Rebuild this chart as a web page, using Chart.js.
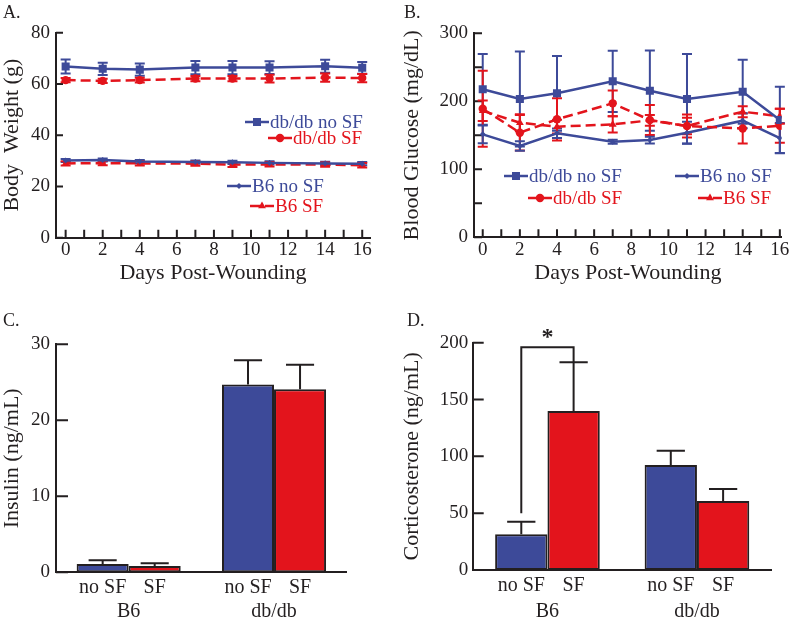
<!DOCTYPE html>
<html>
<head>
<meta charset="utf-8">
<script src="https://cdn.jsdelivr.net/npm/chart.js@4.4.1/dist/chart.umd.min.js"></script>
<style>
  body { margin: 0; background: #fff; }
  #wrap { position: relative; width: 800px; height: 626px; background: #fff; }
  .panel { position: absolute; }
  .tag { position: absolute; font: 18px 'Liberation Serif', serif; line-height: 18px; color: #231f20; }
</style>
</head>
<body>
<div id="wrap">
  <div class="panel" style="left:0;top:0;width:400px;height:300px"><canvas id="chartA"></canvas></div>
  <div class="panel" style="left:400px;top:0;width:400px;height:300px"><canvas id="chartB"></canvas></div>
  <div class="panel" style="left:0;top:300px;width:400px;height:326px"><canvas id="chartC"></canvas></div>
  <div class="panel" style="left:400px;top:300px;width:400px;height:326px"><canvas id="chartD"></canvas></div>
  <div class="tag" style="left:3px;top:3px">A.</div>
  <div class="tag" style="left:404px;top:3px">B.</div>
  <div class="tag" style="left:3px;top:311px">C.</div>
  <div class="tag" style="left:407px;top:311px">D.</div>
</div>
<script>
// dias das medidas
const days = [0, 2, 4, 7, 9, 11, 14, 16];

// A - peso corporal (g)
const bwDbNo = [66.8, 65.9, 65.6, 66.4, 66.4, 66.4, 66.9, 66.3];
const bwDbNoErr = [2.7, 2.4, 2.4, 2.6, 2.6, 2.5, 2.5, 2.3];
const bwDbSF = [61.5, 61.2, 61.5, 62.1, 62.1, 62.1, 62.5, 62.3];
const bwDbSFErr = [0.8, 0.8, 0.9, 1.0, 1.0, 1.5, 1.6, 1.6];
const bwB6No = [30.1, 30.3, 29.7, 29.5, 29.4, 29.2, 29.0, 28.9];
const bwB6NoErr = [0.6, 0.6, 0.6, 0.6, 0.6, 0.6, 0.6, 0.6];
const bwB6SF = [29.0, 29.1, 29.0, 28.9, 28.5, 28.6, 28.5, 28.3];
const bwB6SFErr = [0.8, 0.8, 0.8, 0.8, 0.9, 0.8, 0.8, 0.9];

// B - glicose (mg/dL)
const bgDbNo = [217.6, 203.4, 211.8, 229.4, 215.6, 203.4, 214, 172.5];
const bgDbNoErr = [52, 70, 55, 45, 59, 66, 47, 49];
const bgDbSF = [189, 153.8, 173.5, 197, 172.5, 163.7, 160, 164];
const bgDbSFErr = [56, 26, 31, 19, 22, 17, 22, 25];
const bgB6No = [151.4, 134.3, 153, 140.6, 143, 153.8, 171.5, 146];
const bgB6NoErr = [13, 7, 7, 3, 5, 16, 11, 22];
const bgB6SF = [186, 168.5, 162.7, 166, 172, 163.7, 184.7, 178];
const bgB6SFErr = [15, 12.5, 10, 12, 8, 12, 8, 11];

// C e D - barras
const groups = ['B6', 'db/db'];
const insNo = [1.1, 24.7];
const insNoErr = [0.5, 3.2];
const insSF = [0.83, 24.1];
const insSFErr = [0.35, 3.2];
const cortNo = [31.4, 92.4];
const cortNoErr = [11.1, 12.6];
const cortSF = [139.9, 60.7];
const cortSFErr = [42.8, 10.5];
const sigBracket = [50, 196]; // inicio e topo do colchete (ng/mL)

const BLUE = '#3d4a99';
const RED = '#e3141c';
const INK = '#231f20';
const FAM = "'Liberation Serif', serif";

function pts(vals) {
    return days.map((d, i) => ({ x: d, y: vals[i] }));
}

function serie(label, vals, errs, color, style, radius, dashed) {
    return {
        label: label,
        data: pts(vals),
        errors: errs,
        borderColor: color,
        backgroundColor: color,
        borderWidth: 2.5,
        borderDash: dashed ? [10, 5] : [],
        pointStyle: style,
        pointRadius: radius,
        pointBorderWidth: 0,
        pointBackgroundColor: color,
        tension: 0
    };
}

// tracinhos dos eixos virados para dentro
const innerTicks = {
    id: 'innerTicks',
    beforeDatasetsDraw(chart, args, opts) {
        const ctx = chart.ctx;
        const area = chart.chartArea;
        ctx.save();
        ctx.strokeStyle = INK;
        ctx.lineWidth = 2;
        ctx.beginPath();
        if (opts.x) {
            const xs = chart.scales.x;
            xs.ticks.forEach(t => {
                const px = xs.getPixelForValue(t.value);
                ctx.moveTo(px, area.bottom);
                ctx.lineTo(px, area.bottom - opts.x);
            });
        }
        if (opts.y) {
            const ys = chart.scales.y;
            ys.ticks.forEach(t => {
                const py = ys.getPixelForValue(t.value);
                ctx.moveTo(area.left, py);
                ctx.lineTo(area.left + opts.y, py);
            });
        }
        ctx.stroke();
        ctx.restore();
    }
};

// barras de erro das linhas (para cima e para baixo)
const lineErrors = {
    id: 'lineErrors',
    beforeDatasetsDraw(chart) {
        const ctx = chart.ctx;
        const ys = chart.scales.y;
        chart.data.datasets.forEach((ds, i) => {
            const meta = chart.getDatasetMeta(i);
            ctx.save();
            ctx.strokeStyle = ds.borderColor;
            ctx.lineWidth = 2;
            meta.data.forEach((pt, j) => {
                const v = ds.data[j].y, e = ds.errors[j];
                const y1 = ys.getPixelForValue(v + e);
                const y2 = ys.getPixelForValue(v - e);
                ctx.beginPath();
                ctx.moveTo(pt.x, y1); ctx.lineTo(pt.x, y2);
                ctx.moveTo(pt.x - 5, y1); ctx.lineTo(pt.x + 5, y1);
                ctx.moveTo(pt.x - 5, y2); ctx.lineTo(pt.x + 5, y2);
                ctx.stroke();
            });
            ctx.restore();
        });
    }
};

// legenda dentro da area do grafico
const inlineLegend = {
    id: 'inlineLegend',
    afterDatasetsDraw(chart, args, opts) {
        const ctx = chart.ctx;
        opts.rows.forEach(r => {
            const ds = chart.data.datasets[r.i];
            ctx.save();
            ctx.strokeStyle = ds.borderColor;
            ctx.lineWidth = 2.5;
            ctx.setLineDash(ds.borderDash);
            ctx.beginPath();
            ctx.moveTo(r.x - 25, r.y); ctx.lineTo(r.x - 1, r.y);
            ctx.stroke();
            ctx.setLineDash([]);
            ctx.fillStyle = ds.borderColor;
            Chart.helpers.drawPoint(ctx, { pointStyle: ds.pointStyle, radius: ds.pointRadius, borderWidth: 0 }, r.x - 13, r.y);
            ctx.font = '19px ' + FAM;
            ctx.textBaseline = 'middle';
            ctx.textAlign = 'left';
            ctx.fillText(ds.label, r.x, r.y + 1);
            ctx.restore();
        });
    }
};

// barras de erro das colunas (so para cima)
const barErrors = {
    id: 'barErrors',
    afterDatasetsDraw(chart) {
        const ctx = chart.ctx;
        const ys = chart.scales.y;
        chart.data.datasets.forEach((ds, i) => {
            const meta = chart.getDatasetMeta(i);
            ctx.save();
            ctx.strokeStyle = INK;
            ctx.lineWidth = 2;
            meta.data.forEach((bar, j) => {
                const yt = ys.getPixelForValue(ds.data[j] + ds.errors[j]);
                const half = bar.width * 0.27;
                ctx.beginPath();
                ctx.moveTo(bar.x, bar.y); ctx.lineTo(bar.x, yt);
                ctx.moveTo(bar.x - half, yt); ctx.lineTo(bar.x + half, yt);
                ctx.stroke();
            });
            ctx.restore();
        });
    }
};

// rotulos "no SF" / "SF" abaixo de cada barra
const barNames = {
    id: 'barNames',
    afterDraw(chart, args, opts) {
        const ctx = chart.ctx;
        ctx.save();
        ctx.font = '20px ' + FAM;
        ctx.fillStyle = INK;
        ctx.textAlign = 'center';
        ctx.textBaseline = 'middle';
        chart.data.datasets.forEach((ds, i) => {
            chart.getDatasetMeta(i).data.forEach(bar => {
                ctx.fillText(ds.label, bar.x, chart.chartArea.bottom + opts.offset);
            });
        });
        ctx.restore();
    }
};

// colchete de significancia com asterisco
const sigMark = {
    id: 'sigMark',
    afterDatasetsDraw(chart) {
        const ctx = chart.ctx;
        const ys = chart.scales.y;
        const a = chart.getDatasetMeta(0).data[0];
        const b = chart.getDatasetMeta(1).data[0];
        const ds = chart.data.datasets[1];
        const yStart = ys.getPixelForValue(sigBracket[0]);
        const yTop = ys.getPixelForValue(sigBracket[1]);
        const yEnd = ys.getPixelForValue(ds.data[0] + ds.errors[0]);
        ctx.save();
        ctx.strokeStyle = INK;
        ctx.lineWidth = 2;
        ctx.beginPath();
        ctx.moveTo(a.x, yStart); ctx.lineTo(a.x, yTop);
        ctx.lineTo(b.x, yTop); ctx.lineTo(b.x, yEnd);
        ctx.stroke();
        ctx.fillStyle = INK;
        ctx.font = 'bold 24px ' + FAM;
        ctx.textAlign = 'center';
        ctx.textBaseline = 'middle';
        ctx.fillText('*', (a.x + b.x) / 2, yTop - 9);
        ctx.restore();
    }
};

function axisX(min, max, h) {
    return {
        type: 'linear', min: min, max: max,
        border: { color: INK, width: 2 },
        grid: { display: false, drawTicks: false },
        ticks: {
            stepSize: 1, includeBounds: false, autoSkip: false, maxRotation: 0,
            padding: 1, color: INK, font: { family: FAM, size: 19 },
            callback: v => (v % 2 === 0 ? v : '')
        },
        title: { display: true, text: 'Days Post-Wounding', color: INK,
                 font: { family: FAM, size: 22, lineHeight: 1.2 }, padding: { top: 0, bottom: 13.5 } },
        afterFit: s => { s.height = h; }
    };
}

function axisY(max, step, every, w, title, pad) {
    return {
        min: 0, max: max,
        border: { color: INK, width: 2 },
        grid: { display: false, drawTicks: false },
        ticks: {
            stepSize: step, color: INK, padding: pad, font: { family: FAM, size: 19 },
            callback: v => (v % every === 0 ? v : '')
        },
        title: { display: true, text: title, color: INK,
                 font: { family: FAM, size: 22, lineHeight: 1.1 }, padding: { top: 0, bottom: 0 } },
        afterFit: s => { s.width = w; }
    };
}

const chartA = new Chart(document.getElementById('chartA'), {
    type: 'line',
    data: {
        datasets: [
            serie('db/db no SF', bwDbNo, bwDbNoErr, BLUE, 'rect', 5.7, false),
            serie('db/db SF', bwDbSF, bwDbSFErr, RED, 'circle', 4.2, true),
            serie('B6 no SF', bwB6No, bwB6NoErr, BLUE, 'rectRot', 3, false),
            serie('B6 SF', bwB6SF, bwB6SFErr, RED, 'triangle', 4.5, true)
        ]
    },
    options: {
        responsive: true,
        maintainAspectRatio: false,
        animation: false,
        layout: { padding: { left: 0, top: 32.7, right: 30, bottom: 0 } },
        plugins: {
            legend: { display: false },
            tooltip: { enabled: false },
            innerTicks: { x: 8, y: 7 },
            inlineLegend: { rows: [
                { i: 0, x: 270, y: 122 }, { i: 1, x: 293, y: 138 },
                { i: 2, x: 252, y: 186 }, { i: 3, x: 275, y: 206 }
            ] }
        },
        scales: {
            x: axisX(-0.52, 16.42, 62.3),
            y: axisY(80, 10, 20, 56, 'Body  Weight (g)', 6)
        }
    },
    plugins: [innerTicks, lineErrors, inlineLegend]
});

const chartB = new Chart(document.getElementById('chartB'), {
    type: 'line',
    data: {
        datasets: [
            serie('db/db no SF', bgDbNo, bgDbNoErr, BLUE, 'rect', 5.7, false),
            serie('db/db SF', bgDbSF, bgDbSFErr, RED, 'circle', 4.2, true),
            serie('B6 no SF', bgB6No, bgB6NoErr, BLUE, 'rectRot', 3, false),
            serie('B6 SF', bgB6SF, bgB6SFErr, RED, 'triangle', 4.5, true)
        ]
    },
    options: {
        responsive: true,
        maintainAspectRatio: false,
        animation: false,
        layout: { padding: { left: 0, top: 33.3, right: 18.3, bottom: 0 } },
        plugins: {
            legend: { display: false },
            tooltip: { enabled: false },
            innerTicks: { x: 8, y: 8 },
            inlineLegend: { rows: [
                { i: 0, x: 129, y: 176 }, { i: 1, x: 153, y: 198 },
                { i: 2, x: 300, y: 176 }, { i: 3, x: 323, y: 198 }
            ] }
        },
        scales: {
            x: axisX(-0.47, 16.1, 62.7),
            y: axisY(300, 50, 100, 74, 'Blood Glucose (mg/dL)', 6)
        }
    },
    plugins: [innerTicks, lineErrors, inlineLegend]
});

function barChart(id, noVals, noErr, sfVals, sfErr, opt) {
    return new Chart(document.getElementById(id), {
        type: 'bar',
        data: {
            labels: groups,
            datasets: [
                { label: 'no SF', data: noVals, errors: noErr, backgroundColor: BLUE },
                { label: 'SF', data: sfVals, errors: sfErr, backgroundColor: RED }
            ]
        },
        options: {
            responsive: true,
            maintainAspectRatio: false,
            animation: false,
            layout: { padding: opt.padding },
            datasets: { bar: { borderColor: INK, borderWidth: 2, borderSkipped: false,
                               barPercentage: 1, categoryPercentage: opt.catPct } },
            plugins: {
                legend: { display: false },
                tooltip: { enabled: false },
                innerTicks: { x: 0, y: opt.tick },
                barNames: { offset: opt.nameOffset }
            },
            scales: {
                x: {
                    border: { color: INK, width: 2 },
                    grid: { display: false, drawTicks: false },
                    ticks: { color: INK, padding: opt.groupPad, font: { family: FAM, size: 20 } },
                    afterFit: s => { s.height = opt.xh; }
                },
                y: axisY(opt.max, opt.step, opt.step, opt.yw, opt.title, opt.tickPad)
            }
        },
        plugins: opt.plugins
    });
}

const chartC = barChart('chartC', insNo, insNoErr, insSF, insSFErr, {
    padding: { left: 0, top: 44.3, right: 53.3, bottom: 0 },
    catPct: 0.716, max: 30, step: 10, yw: 56, title: 'Insulin (ng/mL)',
    tick: 12, tickPad: 6, xh: 53.7, groupPad: 27.4, nameOffset: 15,
    plugins: [innerTicks, barErrors, barNames]
});

const chartD = barChart('chartD', cortNo, cortNoErr, cortSF, cortSFErr, {
    padding: { left: 0, top: 42.7, right: 28.3, bottom: 0 },
    catPct: 0.70, max: 200, step: 50, yw: 72.7, title: 'Corticosterone (ng/mL)',
    tick: 11, tickPad: 4.5, xh: 56, groupPad: 29.7, nameOffset: 16,
    plugins: [innerTicks, barErrors, barNames, sigMark]
});
</script>
</body>
</html>
